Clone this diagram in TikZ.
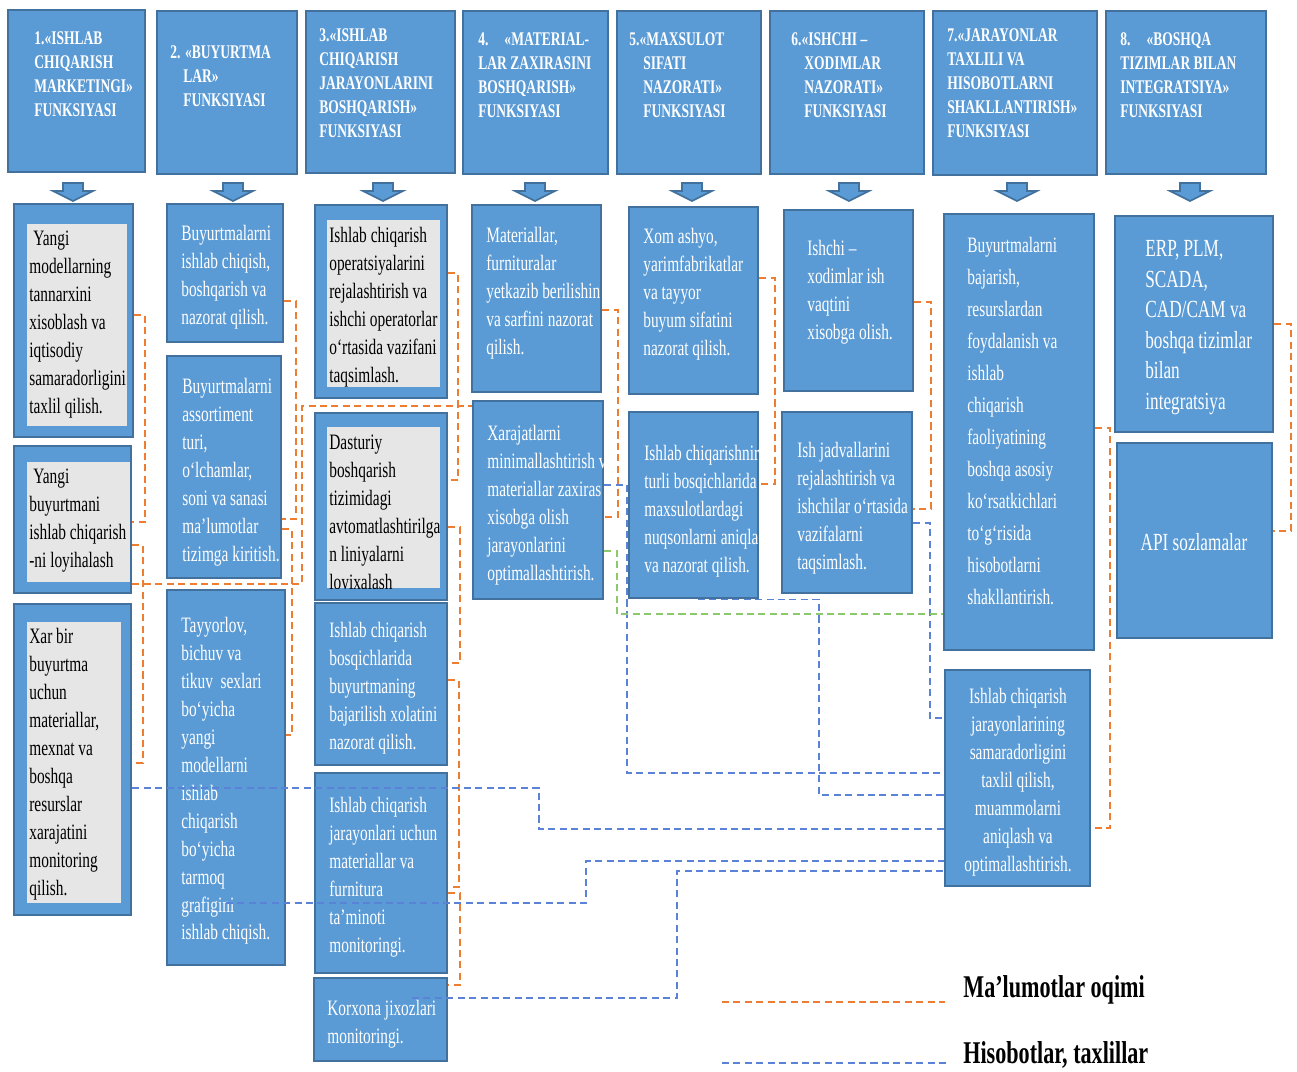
\documentclass[tikz,border=0pt]{standalone}
\usepackage{fontspec}
\setmainfont{Liberation Serif}[FakeStretch=0.7]
\usetikzlibrary{fit}
\definecolor{boxblue}{HTML}{5B9BD5}
\definecolor{boxedge}{HTML}{41719C}
\definecolor{innergray}{HTML}{E7E6E6}
\definecolor{flowc}{HTML}{ED7D31}
\definecolor{repc}{HTML}{5A82D6}
\definecolor{grnc}{HTML}{8CC96A}

\begin{document}
\begin{tikzpicture}[x=0.2mm, y=-0.2mm,
	box/.style={draw=boxedge, fill=boxblue, line width=1.6pt, inner sep=0pt},
	graybox/.style={fill=innergray, draw=none, inner sep=0pt},
	arr/.style={draw=boxedge, fill=boxblue, line width=1pt},
	htxt/.style={anchor=north west, align=left, inner sep=0pt, text=white, font=\bfseries\fontsize{11}{13.7}\selectfont},
	wtxt/.style={anchor=north west, align=left, inner sep=0pt, text=white, font=\fontsize{12.5}{15.9}\selectfont},
	ktxt/.style={wtxt, text=black},
	flow/.style={flowc, line width=0.9pt, dash pattern=on 4pt off 2.5pt},
	rep/.style={repc, line width=0.9pt, dash pattern=on 4pt off 2.5pt},
	grn/.style={grnc, line width=0.9pt, dash pattern=on 4pt off 2.5pt},
	legtxt/.style={anchor=west, inner sep=0pt, font=\bfseries\fontsize{18}{20}\selectfont}]
		\useasboundingbox (0,0) rectangle (1297,1072);
		%funksiyalar
		\node[box, fit={(8,10)(145,172)}] (h1) {};
		\node[box, fit={(157,11)(297,174)}] (h2) {};
		\node[box, fit={(306,11)(455,173)}] (h3) {};
		\node[box, fit={(463,11)(608,174)}] (h4) {};
		\node[box, fit={(617,11)(761,174)}] (h5) {};
		\node[box, fit={(770,11)(924,174)}] (h6) {};
		\node[box, fit={(933,11)(1097,175)}] (h7) {};
		\node[box, fit={(1106,11)(1266,174)}] (h8) {};
		\node[htxt] (h1t) at (34,31) {1.«ISHLAB\\CHIQARISH\\MARKETINGI»\\FUNKSIYASI};
		\node[htxt] (h2t) at (170,45) {2. «BUYURTMA\\\hspace*{2.6mm}LAR»\\\hspace*{2.6mm}FUNKSIYASI};
		\node[htxt] (h3t) at (319,28) {3.«ISHLAB\\CHIQARISH\\JARAYONLARINI\\BOSHQARISH»\\FUNKSIYASI};
		\node[htxt] (h4t) at (478,32) {4.\hspace{3.2mm}«MATERIAL-\\LAR ZAXIRASINI\\BOSHQARISH»\\FUNKSIYASI};
		\node[htxt] (h5t) at (629,32) {5.«MAXSULOT\\\hspace*{2.8mm}SIFATI\\\hspace*{2.8mm}NAZORATI»\\\hspace*{2.8mm}FUNKSIYASI};
		\node[htxt] (h6t) at (791,32) {6.«ISHCHI –\\\hspace*{2.6mm}XODIMLAR\\\hspace*{2.6mm}NAZORATI»\\\hspace*{2.6mm}FUNKSIYASI};
		\node[htxt] (h7t) at (947,28) {7.«JARAYONLAR\\TAXLILI VA\\HISOBOTLARNI\\SHAKLLANTIRISH»\\FUNKSIYASI};
		\node[htxt] (h8t) at (1120,32) {8.\hspace{3.2mm}«BOSHQA\\TIZIMLAR BILAN\\INTEGRATSIYA»\\FUNKSIYASI};
		\foreach \ax in {73,233,383,535,692,849,1017,1190}
			\draw[arr] (\ax-10,183) -- (\ax+10,183) -- (\ax+10,191) -- (\ax+20,191) -- (\ax,201) -- (\ax-20,191) -- (\ax-10,191) -- cycle;
		
		\node[box, fit={(14,204)(133,437)}] (a1) {};
		\node[box, fit={(14,446)(131,593)}] (a2) {};
		\node[box, fit={(14,604)(131,915)}] (a3) {};
		\node[graybox, fit={(27,224)(127,426)}] (a1in) {};
		\node[graybox, fit={(27,462)(130,582)}] (a2in) {};
		\node[graybox, fit={(27,622)(121,903)}] (a3in) {};
		\node[ktxt] (a1t) at (29,231) {\hspace*{0.8mm}Yangi\\modellarning\\tannarxini\\xisoblash va\\iqtisodiy\\samaradorligini\\taxlil qilish.};
		\node[ktxt] (a2t) at (29,469) {\hspace*{0.8mm}Yangi\\buyurtmani\\ishlab chiqarish\\-ni loyihalash};
		\node[ktxt] (a3t) at (29,628) {Xar bir\\buyurtma\\uchun\\materiallar,\\mexnat va\\boshqa\\resurslar\\xarajatini\\monitoring\\qilish.};
		
		\node[box, fit={(167,204)(283,342)}] (b1) {};
		\node[box, fit={(167,356)(281,578)}] (b2) {};
		\node[box, fit={(167,590)(285,965)}] (b3) {};
		\node[wtxt] (b1t) at (181,225) {Buyurtmalarni\\ishlab chiqish,\\boshqarish va\\nazorat qilish.};
		\node[wtxt] (b2t) at (182,378) {Buyurtmalarni\\assortiment\\turi,\\o‘lchamlar,\\soni va sanasi\\ma’lumotlar\\tizimga kiritish.};
		\node[wtxt] (b3t) at (181,617) {Tayyorlov,\\bichuv va\\tikuv~ sexlari\\bo‘yicha\\yangi\\modellarni\\ishlab\\chiqarish\\bo‘yicha\\tarmoq\\grafigini\\ishlab chiqish.};
		
		\node[box, fit={(315,205)(447,398)}] (c1) {};
		\node[box, fit={(315,413)(447,600)}] (c2) {};
		\node[box, fit={(315,603)(447,765)}] (c3) {};
		\node[box, fit={(315,773)(447,973)}] (c4) {};
		\node[box, fit={(314,978)(447,1061)}] (c5) {};
		\node[graybox, fit={(327,220)(440,387)}] (c1in) {};
		\node[graybox, fit={(327,427)(440,588)}] (c2in) {};
		\node[ktxt] (c1t) at (329,227) {Ishlab chiqarish\\operatsiyalarini\\rejalashtirish va\\ishchi operatorlar\\o‘rtasida vazifani\\taqsimlash.};
		\begin{scope}
			\clip (c2in.south west) rectangle (c2in.north east);
			\node[ktxt] (c2t) at (329,435) {Dasturiy\\boshqarish\\tizimidagi\\avtomatlashtirilga\\n liniyalarni\\loyixalash};
		\end{scope}
		\node[wtxt] (c3t) at (329,622) {Ishlab chiqarish\\bosqichlarida\\buyurtmaning\\bajarilish xolatini\\nazorat qilish.};
		\node[wtxt] (c4t) at (329,797) {Ishlab chiqarish\\jarayonlari uchun\\materiallar va\\furnitura\\ta’minoti\\monitoringi.};
		\node[wtxt] (c5t) at (327,1000) {Korxona jixozlari\\monitoringi.};
		
		\node[box, fit={(472,205)(601,392)}] (d1) {};
		\node[box, fit={(473,401)(603,599)}] (d2) {};
		\begin{scope}
			\clip (d1.south west) rectangle (d1.north east);
			\node[wtxt] (d1t) at (486,227) {Materiallar,\\furnituralar\\yetkazib berilishin\\va sarfini nazorat\\qilish.};
		\end{scope}
		\begin{scope}
			\clip (d2.south west) rectangle (d2.north east);
			\node[wtxt] (d2t) at (487,425) {Xarajatlarni\\minimallashtirish v\\materiallar zaxiras\\xisobga olish\\jarayonlarini\\optimallashtirish.};
		\end{scope}
		
		\node[box, fit={(629,207)(758,394)}] (e1) {};
		\node[box, fit={(629,412)(758,598)}] (e2) {};
		\node[wtxt] (e1t) at (643,228) {Xom ashyo,\\yarimfabrikatlar\\va tayyor\\buyum sifatini\\nazorat qilish.};
		\begin{scope}
			\clip (e2.south west) rectangle (e2.north east);
			\node[wtxt] (e2t) at (644,445) {Ishlab chiqarishnir\\turli bosqichlarida\\maxsulotlardagi\\nuqsonlarni aniqla\\va nazorat qilish.};
		\end{scope}
		
		\node[box, fit={(784,210)(913,391)}] (f1) {};
		\node[box, fit={(782,412)(912,593)}] (f2) {};
		\node[wtxt] (f1t) at (807,240) {Ishchi –\\xodimlar ish\\vaqtini\\xisobga olish.};
		\node[wtxt] (f2t) at (797,442) {Ish jadvallarini\\rejalashtirish va\\ishchilar o‘rtasida\\vazifalarni\\taqsimlash.};
		
		\node[box, fit={(944,214)(1094,650)}] (g1) {};
		\node[box, fit={(945,670)(1090,886)}] (g2) {};
		\node[wtxt, font=\fontsize{12.5}{18.2}\selectfont] (g1t) at (967,237) {Buyurtmalarni\\bajarish,\\resurslardan\\foydalanish va\\ishlab\\chiqarish\\faoliyatining\\boshqa asosiy\\ko‘rsatkichlari\\to‘g‘risida\\hisobotlarni\\shakllantirish.};
		\node[wtxt, anchor=north, align=center] (g2t) at (1018,688) {Ishlab chiqarish\\jarayonlarining\\samaradorligini\\taxlil qilish,\\muammolarni\\aniqlash va\\optimallashtirish.};
		
		\node[box, fit={(1115,216)(1273,432)}] (h1b) {};
		\node[box, fit={(1117,443)(1272,638)}] (h2b) {};
		\node[wtxt, font=\fontsize{14}{17.4}\selectfont] (h1bt) at (1145,240) {ERP, PLM,\\SCADA,\\CAD/CAM va\\boshqa tizimlar\\bilan\\integratsiya};
		\node[wtxt, anchor=center, font=\fontsize{14}{17.4}\selectfont] (h2bt) at (1194,542) {API sozlamalar};
		
		%ma'lumotlar oqimi
		\draw[flow] (a1.east |- 0,315) -| (145,522) -- (a2.east |- 0,522);
		\draw[flow] (a2.east |- 0,545) -| (143,763) -- (a3.east |- 0,763);
		\draw[flow] (a2.east |- 0,584) -| (302,406) -- (d2.west |- 0,406);
		\draw[flow] (b1.east |- 0,301) -| (296,519) -- (b2.east |- 0,519);
		\draw[flow] (b2.east |- 0,529) -| (292,735) -- (b3.east |- 0,735);
		\draw[flow] (c1.east |- 0,273) -| (458,480) -- (c2.east |- 0,480);
		\draw[flow] (c2.east |- 0,527) -| (460,663) -- (c3.east |- 0,663);
		\draw[flow] (c3.east |- 0,680) -| (459,887) -- (c4.east |- 0,887);
		\draw[flow] (c4.east |- 0,893) -| (460,985) -- (c5.east |- 0,985);
		\draw[flow] (d1.east |- 0,310) -| (618,517) -- (d2.east |- 0,517);
		\draw[flow] (e1.east |- 0,278) -| (775,484) -- (e2.east |- 0,484);
		\draw[flow] (f1.east |- 0,302) -| (931,509) -- (f2.east |- 0,509);
		\draw[flow] (g1.east |- 0,428) -| (1110,828) -- (g2.east |- 0,828);
		\draw[flow] (h1b.east |- 0,324) -| (1291,531) -- (h2b.east |- 0,531);
		
		%hisobotlar
		\coordinate (c5r) at (412,998);
		\draw[rep] (a3.east |- 0,788) -| (539,829) -- (g2.west |- 0,829);
		\draw[rep] (b3.center |- 0,903) -| (586,861) -- (g2.west |- 0,861);
		\draw[rep] (c5r) -| (677,871) -- (g2.west |- 0,871);
		\draw[rep] (e2.south -| 698,0) -| (819,795) -- (g2.west |- 0,795);
		\draw[rep] (d2.east |- 0,485) -| (627,773) -- (g2.west |- 0,773);
		\draw[rep] (f2.east |- 0,523) -| (930,718) -- (g2.west |- 0,718);
		\draw[grn] (d2.east |- 0,551) -| (617,614) -- (g1.west |- 0,614);
		
		\coordinate (lg1) at (722,1002);
		\coordinate (lg2) at (945,1002);
		\coordinate (lg3) at (722,1063);
		\coordinate (lg4) at (948,1063);
		\draw[flow] (lg1) -- (lg2);
		\draw[rep] (lg3) -- (lg4);
		\node[legtxt] (lgt1) at (963,990) {Ma’lumotlar oqimi};
		\node[legtxt] (lgt2) at (963,1055) {Hisobotlar, taxlillar};
	\end{tikzpicture}
\end{document}
